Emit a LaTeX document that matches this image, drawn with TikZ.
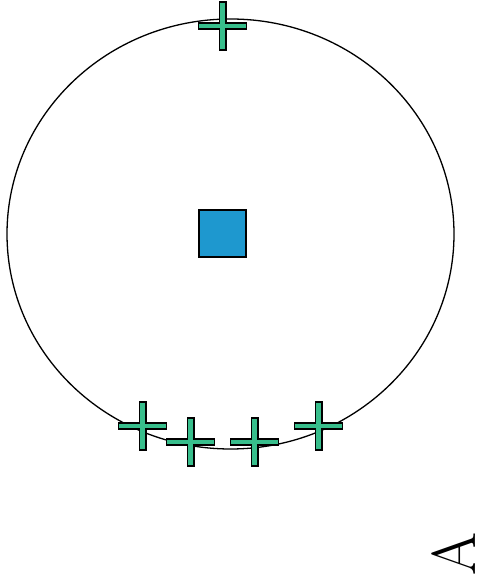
\documentclass[tikz,border=0pt]{standalone}
\definecolor{crossgreen}{RGB}{56,190,140}
\definecolor{boxblue}{RGB}{30,152,207}
\tikzset{
  plusmark/.pic={
    \filldraw[fill=crossgreen,line width=1.6pt,line join=miter]
      (-3.2,24)--(3.2,24)--(3.2,3.2)--(24,3.2)--(24,-3.2)--(3.2,-3.2)
      --(3.2,-24)--(-3.2,-24)--(-3.2,-3.2)--(-24,-3.2)--(-24,3.2)
      --(-3.2,3.2)--cycle;
  },
  sqbox/.style={draw,line width=1.3pt,fill=boxblue,minimum size=47pt,inner sep=0pt}
}
\begin{document}
\begin{tikzpicture}[x=1pt,y=1pt]
  \useasboundingbox (0,0) rectangle (483,586);
  \coordinate (O) at (230.5,352);
  \draw[line width=1.3pt] (O) ellipse (223.5 and 215);
  \node[sqbox] (sq) at (222.5,352.5) {};
  % crosses on the circle
  \coordinate (T) at (222.5,560);
  \coordinate (B1) at (142.5,160);
  \coordinate (B2) at (190.5,144);
  \coordinate (B3) at (254.5,144);
  \coordinate (B4) at (318.5,160);
  \foreach \p in {T,B1,B2,B3,B4}
    \pic at (\p) {plusmark};
  \node[inner sep=0pt,rotate=90,font=\fontsize{62}{62}\selectfont] (lbl) at (454,32) {A};
\end{tikzpicture}
\end{document}
